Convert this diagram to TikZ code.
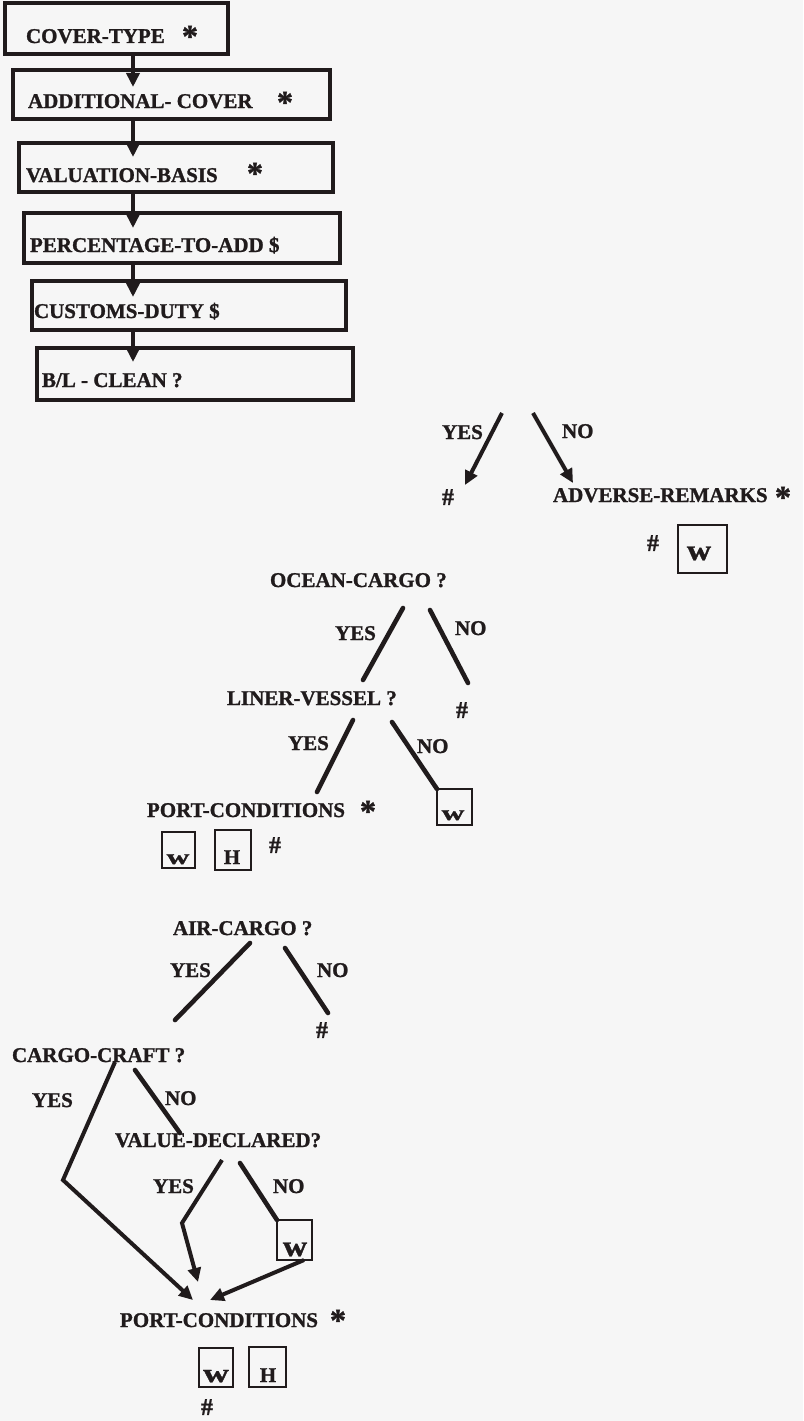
\documentclass[tikz,border=0pt]{standalone}
\usepackage{fontspec}
\setmainfont{Liberation Serif}[BoldFeatures={FakeBold=1.2}]
\usetikzlibrary{arrows.meta}
\definecolor{ink}{RGB}{32,27,28}
\definecolor{paper}{RGB}{246,246,246}
\begin{document}
\begin{tikzpicture}[x=1pt,y=-1pt,
  every node/.style={inner sep=0pt, outer sep=0pt, text=ink, font=\fontsize{21}{24}\selectfont\bfseries},
  box/.style={draw=ink, line width=3.2pt, anchor=north west},
  lbl/.style={anchor=base west},
  star/.style={anchor=base, font=\fontsize{32}{34}\selectfont\bfseries},
  hash/.style={anchor=center, font=\fontsize{24}{26}\selectfont\bfseries},
  wbox/.style={draw=ink, line width=2.8pt, anchor=north west},
  glyph/.style={anchor=base},
  arr/.style={draw=ink, line width=4pt, -{Triangle[length=14pt,width=13pt]}},
  br/.style={draw=ink, line width=4.6pt, line cap=round},
]
\fill[paper] (0,0) rectangle (803,1421);
\useasboundingbox (0,0) rectangle (803,1421);

% ---------- chain of boxes ----------
\coordinate (sp) at (133,0);
\node[box, minimum width=223pt, minimum height=51pt] (b1) at (5,3) {};
\node[box, minimum width=317pt, minimum height=49pt] (b2) at (13,70) {};
\node[box, minimum width=314pt, minimum height=49pt] (b3) at (19,143) {};
\node[box, minimum width=316pt, minimum height=50pt] (b4) at (24,213) {};
\node[box, minimum width=314pt, minimum height=49pt] (b5) at (32,281) {};
\node[box, minimum width=316pt, minimum height=52pt] (b6) at (37,348) {};

\node[lbl] (t1) at (26,43) {COVER-TYPE};
\node[star] (s1) at (190,47) {*};
\node[lbl] (t2) at (28,108) {ADDITIONAL- COVER};
\node[star] (s2) at (285,113) {*};
\node[lbl] (t3) at (26,182) {VALUATION-BASIS};
\node[star] (s3) at (255,184) {*};
\node[lbl] (t4) at (30,252) {PERCENTAGE-TO-ADD \$};
\node[lbl] (t5) at (34,318) {CUSTOMS-DUTY \$};
\node[lbl] (t6) at (42,387) {B/L - CLEAN ?};

\draw[arr, shorten >=-17pt] (b1.south -| sp) -- (b2.north -| sp);
\draw[arr, shorten >=-14pt] (b2.south -| sp) -- (b3.north -| sp);
\draw[arr, shorten >=-15pt] (b3.south -| sp) -- (b4.north -| sp);
\draw[arr, shorten >=-16pt] (b4.south -| sp) -- (b5.north -| sp);
\draw[arr, shorten >=-14pt] (b5.south -| sp) -- (b6.north -| sp);

% ---------- B/L clean branch ----------
\coordinate (ay0) at (502,413);
\coordinate (ay1) at (465,485);
\coordinate (an0) at (533,413);
\coordinate (an1) at (573,483);
\draw[arr] (ay0) -- (ay1);
\draw[arr] (an0) -- (an1);
\node[lbl] (ayl) at (442,439) {YES};
\node[lbl] (anl) at (562,438) {NO};
\node[hash] (ah) at (448,497) {\#};
\node[lbl] (adv) at (553,502) {ADVERSE-REMARKS};
\node[star] (advs) at (783,508) {*};
\node[hash] (advh) at (653,543) {\#};
\node[wbox, minimum width=49pt, minimum height=48pt] (advw) at (678,525) {};
\node[glyph] (advwt) at (699,560) {\scalebox{1.6}[1.4]{w}};

% ---------- ocean cargo ----------
\node[lbl] (oc) at (270,587) {OCEAN-CARGO ?};
\coordinate (oy0) at (403,608);
\coordinate (oy1) at (363,680);
\coordinate (on0) at (430,610);
\coordinate (on1) at (468,683);
\draw[br] (oy0) -- (oy1);
\draw[br] (on0) -- (on1);
\node[lbl] (oyl) at (335,640) {YES};
\node[lbl] (onl) at (455,635) {NO};
\node[hash] (oh) at (462,710) {\#};

\node[lbl] (lv) at (227,705) {LINER-VESSEL ?};
\coordinate (ly0) at (353,720);
\coordinate (ly1) at (317,792);
\coordinate (ln0) at (392,722);
\draw[br] (ly0) -- (ly1);
\node[lbl] (lyl) at (288,750) {YES};
\node[lbl] (lnl) at (417,753) {NO};
\node[wbox, minimum width=35pt, minimum height=36pt] (lw) at (437,789) {};
\draw[br] (ln0) -- (lw.north west);
\node[glyph] (lwt) at (453,820) {\scalebox{1.5}[1.0]{w}};

\node[lbl] (pc1) at (147,817) {PORT-CONDITIONS};
\node[star] (pc1s) at (368,822) {*};
\node[wbox, minimum width=33pt, minimum height=36pt] (pw1) at (162,832) {};
\node[glyph] (pw1t) at (178,864) {\scalebox{1.5}[1.0]{w}};
\node[wbox, minimum width=36pt, minimum height=40pt] (ph1) at (215,830) {};
\node[glyph] (ph1t) at (232,864) {H};
\node[hash] (pc1h) at (275,845) {\#};

% ---------- air cargo ----------
\node[lbl] (ac) at (173,935) {AIR-CARGO ?};
\coordinate (cy0) at (250,943);
\coordinate (cy1) at (175,1020);
\coordinate (cn0) at (285,948);
\coordinate (cn1) at (328,1013);
\draw[br] (cy0) -- (cy1);
\draw[br] (cn0) -- (cn1);
\node[lbl] (cyl) at (170,977) {YES};
\node[lbl] (cnl) at (317,977) {NO};
\node[hash] (ch) at (322,1030) {\#};

\node[lbl] (cc) at (12,1062) {CARGO-CRAFT ?};
\coordinate (ky0) at (115,1062);
\coordinate (ky1) at (63,1180);
\coordinate (ky2) at (193,1300);
\coordinate (kn0) at (135,1070);
\coordinate (kn1) at (180,1133);
\draw[arr] (ky0) -- (ky1) -- (ky2);
\draw[br] (kn0) -- (kn1);
\node[lbl] (kyl) at (32,1107) {YES};
\node[lbl] (knl) at (165,1105) {NO};

\node[lbl] (vd) at (115,1147) {VALUE-DECLARED?};
\coordinate (vy0) at (222,1160);
\coordinate (vy1) at (182,1223);
\coordinate (vy2) at (198,1282);
\coordinate (vn0) at (240,1163);
\draw[arr] (vy0) -- (vy1) -- (vy2);
\node[lbl] (vyl) at (153,1193) {YES};
\node[lbl] (vnl) at (273,1193) {NO};
\node[wbox, minimum width=35pt, minimum height=40pt] (vw) at (277,1220) {};
\draw[br] (vn0) -- (vw.north west);
\node[glyph] (vwt) at (295,1256) {\scalebox{1.6}[1.4]{w}};
\coordinate (vw1) at (210,1300);
\draw[arr] ([xshift=-8pt]vw.south east) -- (vw1);

\node[lbl] (pc2) at (120,1327) {PORT-CONDITIONS};
\node[star] (pc2s) at (338,1331) {*};
\node[wbox, minimum width=34pt, minimum height=39pt] (pw2) at (199,1348) {};
\node[glyph] (pw2t) at (216,1382) {\scalebox{1.7}[1.25]{w}};
\node[wbox, minimum width=37pt, minimum height=40pt] (ph2) at (249,1347) {};
\node[glyph] (ph2t) at (268,1382) {H};
\node[hash] (pc2h) at (207,1407) {\#};
\end{tikzpicture}
\end{document}
